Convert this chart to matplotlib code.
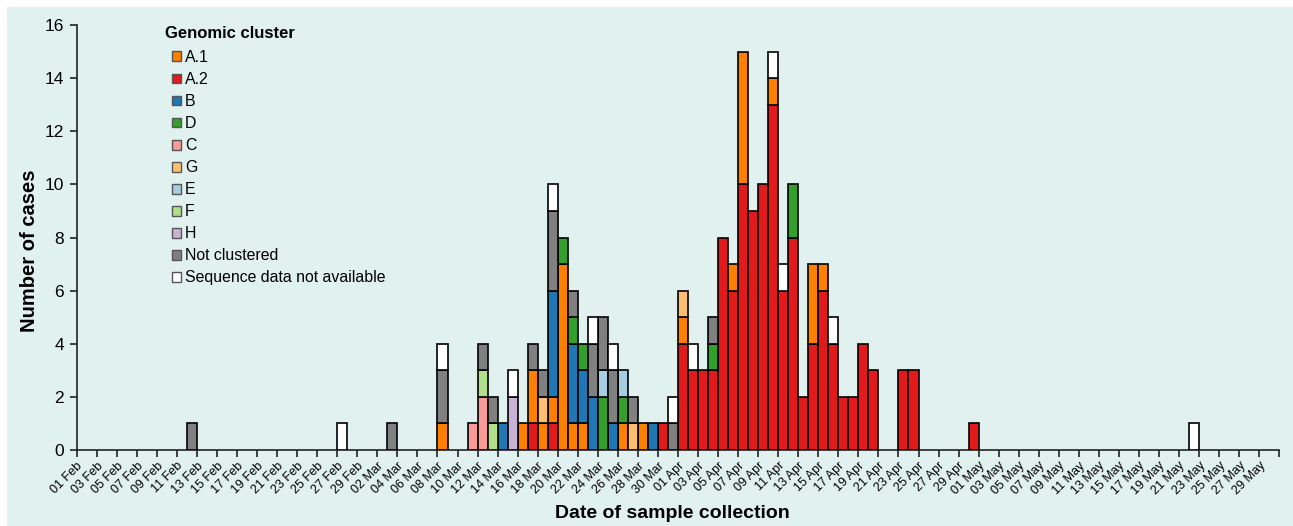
import matplotlib
matplotlib.use("Agg")
import matplotlib.pyplot as plt
from matplotlib.patches import Patch, Rectangle
import numpy as np
import pandas as pd

# Sampling dates that have at least one case (2020)
dates = [
    "2020-02-12", "2020-02-27", "2020-03-03", "2020-03-08", "2020-03-11",
    "2020-03-12", "2020-03-13", "2020-03-14", "2020-03-15", "2020-03-16",
    "2020-03-17", "2020-03-18", "2020-03-19", "2020-03-20", "2020-03-21",
    "2020-03-22", "2020-03-23", "2020-03-24", "2020-03-25", "2020-03-26",
    "2020-03-27", "2020-03-28", "2020-03-29", "2020-03-30", "2020-03-31",
    "2020-04-01", "2020-04-02", "2020-04-03", "2020-04-04", "2020-04-05",
    "2020-04-06", "2020-04-07", "2020-04-08", "2020-04-09", "2020-04-10",
    "2020-04-11", "2020-04-12", "2020-04-13", "2020-04-14", "2020-04-15",
    "2020-04-16", "2020-04-17", "2020-04-18", "2020-04-19", "2020-04-20",
    "2020-04-23", "2020-04-24", "2020-04-30", "2020-05-22",
]

# Daily case counts per genomic cluster, aligned with `dates`
a2 = [0, 0, 0, 0, 0, 0, 0, 0, 0, 0,
      1, 0, 1, 0, 0, 0, 0, 0, 0, 0,
      0, 0, 0, 1, 0, 4, 3, 3, 3, 8,
      6, 10, 9, 10, 13, 6, 8, 2, 4, 6,
      4, 2, 2, 4, 3, 3, 3, 1, 0]
a1 = [0, 0, 0, 1, 0, 0, 0, 0, 0, 1,
      2, 1, 1, 7, 1, 1, 0, 0, 0, 1,
      0, 1, 0, 0, 0, 1, 0, 0, 0, 0,
      1, 5, 0, 0, 1, 0, 0, 0, 3, 1,
      0, 0, 0, 0, 0, 0, 0, 0, 0]
b = [0, 0, 0, 0, 0, 0, 0, 1, 0, 0,
     0, 0, 4, 0, 3, 2, 2, 0, 1, 0,
     0, 0, 1, 0, 0, 0, 0, 0, 0, 0,
     0, 0, 0, 0, 0, 0, 0, 0, 0, 0,
     0, 0, 0, 0, 0, 0, 0, 0, 0]
d = [0, 0, 0, 0, 0, 0, 0, 0, 0, 0,
     0, 0, 0, 1, 1, 1, 0, 2, 0, 1,
     0, 0, 0, 0, 0, 0, 0, 0, 1, 0,
     0, 0, 0, 0, 0, 0, 2, 0, 0, 0,
     0, 0, 0, 0, 0, 0, 0, 0, 0]
c = [0, 0, 0, 0, 1, 2, 0, 0, 0, 0,
     0, 0, 0, 0, 0, 0, 0, 0, 0, 0,
     0, 0, 0, 0, 0, 0, 0, 0, 0, 0,
     0, 0, 0, 0, 0, 0, 0, 0, 0, 0,
     0, 0, 0, 0, 0, 0, 0, 0, 0]
g = [0, 0, 0, 0, 0, 0, 0, 0, 0, 0,
     0, 1, 0, 0, 0, 0, 0, 0, 0, 0,
     1, 0, 0, 0, 0, 1, 0, 0, 0, 0,
     0, 0, 0, 0, 0, 0, 0, 0, 0, 0,
     0, 0, 0, 0, 0, 0, 0, 0, 0]
e = [0, 0, 0, 0, 0, 0, 0, 0, 0, 0,
     0, 0, 0, 0, 0, 0, 0, 1, 0, 1,
     0, 0, 0, 0, 0, 0, 0, 0, 0, 0,
     0, 0, 0, 0, 0, 0, 0, 0, 0, 0,
     0, 0, 0, 0, 0, 0, 0, 0, 0]
f = [0, 0, 0, 0, 0, 1, 1, 0, 0, 0,
     0, 0, 0, 0, 0, 0, 0, 0, 0, 0,
     0, 0, 0, 0, 0, 0, 0, 0, 0, 0,
     0, 0, 0, 0, 0, 0, 0, 0, 0, 0,
     0, 0, 0, 0, 0, 0, 0, 0, 0]
h = [0, 0, 0, 0, 0, 0, 0, 0, 2, 0,
     0, 0, 0, 0, 0, 0, 0, 0, 0, 0,
     0, 0, 0, 0, 0, 0, 0, 0, 0, 0,
     0, 0, 0, 0, 0, 0, 0, 0, 0, 0,
     0, 0, 0, 0, 0, 0, 0, 0, 0]
not_clustered = [1, 0, 1, 2, 0, 1, 1, 0, 0, 0,
                 1, 1, 3, 0, 1, 0, 2, 2, 2, 0,
                 1, 0, 0, 0, 1, 0, 0, 0, 1, 0,
                 0, 0, 0, 0, 0, 0, 0, 0, 0, 0,
                 0, 0, 0, 0, 0, 0, 0, 0, 0]
no_sequence = [0, 1, 0, 1, 0, 0, 0, 0, 1, 0,
               0, 0, 1, 0, 0, 0, 1, 0, 1, 0,
               0, 0, 0, 0, 1, 0, 1, 0, 0, 0,
               0, 0, 0, 0, 1, 1, 0, 0, 0, 0,
               1, 0, 0, 0, 0, 0, 0, 0, 1]

# Stacking order (bottom to top) and legend order
stack_labels = ["A.2", "A.1", "B", "D", "C", "G", "E", "F", "H",
                "Not clustered", "Sequence data not available"]
stack_values = [a2, a1, b, d, c, g, e, f, h, not_clustered, no_sequence]
legend_labels = ["A.1", "A.2", "B", "D", "C", "G", "E", "F", "H",
                 "Not clustered", "Sequence data not available"]
colors = {
    "A.1": "#ff7f00", "A.2": "#e31a1c", "B": "#1f78b4", "D": "#33a02c",
    "C": "#fb9a99", "G": "#fdbf6f", "E": "#a6cee3", "F": "#b2df8a",
    "H": "#cab2d6", "Not clustered": "#808080",
    "Sequence data not available": "#ffffff",
}

start = pd.Timestamp("2020-02-01")
end = pd.Timestamp("2020-05-31")
n_days = (end - start).days  # 120 daily slots
day_idx = np.array([(pd.Timestamp(s) - start).days for s in dates])

BG = "#e1f1f0"
W, H = 1293, 526
fig = plt.figure(figsize=(W / 100, H / 100), dpi=100, facecolor="white")
fig.patches.append(Rectangle((7 / W, 0), 1 - 7 / W, 1 - 7 / H,
                             transform=fig.transFigure, facecolor=BG,
                             edgecolor="none", zorder=-10))

ax = fig.add_axes([76.7 / W, (H - 450) / H, 1202.6 / W, 425 / H])
ax.set_facecolor("none")

bottom = np.zeros(len(dates))
for lab, vals in zip(stack_labels, stack_values):
    vals = np.array(vals, dtype=float)
    mask = vals > 0
    ax.bar(day_idx[mask] + 0.5, vals[mask], width=1.0, bottom=bottom[mask],
           color=colors[lab], edgecolor="black", linewidth=1.2, zorder=3)
    bottom += vals

ax.set_xlim(0, n_days)
ax.set_ylim(0, 16)

for side in ("top", "right"):
    ax.spines[side].set_visible(False)
for side in ("left", "bottom"):
    ax.spines[side].set_color("#222222")
    ax.spines[side].set_linewidth(1.2)

tick_font = ["Liberation Sans", "DejaVu Sans"]
ax.set_yticks(np.arange(0, 17, 2))
ax.set_yticklabels([str(v) for v in range(0, 17, 2)], fontsize=12.5,
                   family=tick_font)
ax.tick_params(axis="y", length=5, width=1.2, color="#222222", pad=4)

xt = np.arange(0, n_days + 1, 2)
xlabels = [(start + pd.Timedelta(days=int(i))).strftime("%d %b") if i < n_days else ""
           for i in xt]
ax.set_xticks(xt)
ax.set_xticklabels(xlabels, rotation=45, ha="right", va="top",
                   rotation_mode="anchor", fontsize=9, family=tick_font)
ax.tick_params(axis="x", length=5, width=1.2, color="#222222", pad=2)

bold_font = ["Liberation Sans Narrow", "Liberation Sans", "DejaVu Sans"]
fig.text(672 / W, 1 - 513 / H, "Date of sample collection", ha="center",
         va="center", fontsize=14, fontweight="bold", family=bold_font)
fig.text(30 / W, 1 - 251 / H, "Number of cases", ha="center", va="center",
         rotation=90, fontsize=14.5, fontweight="bold", family=bold_font)

handles = [Patch(facecolor=colors[l], edgecolor="#555555", linewidth=1.0)
           for l in legend_labels]
fig.text(165 / W, 1 - 33 / H, "Genomic cluster", ha="left", va="center",
         fontsize=12, fontweight="bold", family=bold_font)
leg = ax.legend(handles, legend_labels, loc="upper left",
                bbox_to_anchor=((172 - 76.7) / 1202.6, (450 - 50) / 425),
                frameon=False, borderpad=0, borderaxespad=0,
                handlelength=0.58, handleheight=0.58, handletextpad=0.25,
                labelspacing=0.445, prop={"family": tick_font, "size": 11.4})

fig.savefig("out.png", dpi=100, facecolor=fig.get_facecolor())
